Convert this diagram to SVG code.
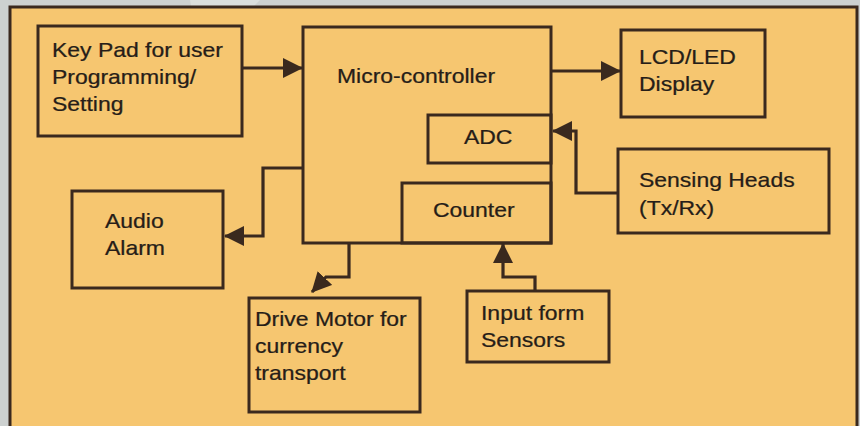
<svg xmlns="http://www.w3.org/2000/svg" width="860" height="426" viewBox="0 0 860 426">
<style>
.box{fill:none;stroke:#3a291e;stroke-width:3}
.frame{fill:#F6C670;stroke:#3a291e;stroke-width:3}
.ln{fill:none;stroke:#3a291e;stroke-width:3.2;stroke-linejoin:miter}
text{font-family:"Liberation Sans",Arial,sans-serif;font-size:20.5px;fill:#261d18;stroke:#261d18;stroke-width:0.25}
</style>
<defs>
<marker id="ah" markerUnits="userSpaceOnUse" markerWidth="20" markerHeight="20" viewBox="0 0 20 20" refX="19" refY="10" orient="auto">
<path d="M0,0 L20,10 L0,20 z" fill="#3a291e"/>
</marker>
</defs>
<rect x="0" y="0" width="860" height="426" fill="#cdd1d0"/>
<path d="M190,0 L260,0 L200,60 Z" fill="#e4e7e6" opacity="0.6"/>
<rect class="frame" x="10" y="7" width="847" height="440"/>
<g id="keypad">
<rect class="box" x="38" y="26" width="204" height="110"/>
<text transform="matrix(1.12 0 0 1 52 57)">Key Pad for user</text>
<text transform="matrix(1.12 0 0 1 52 84)">Programming/</text>
<text transform="matrix(1.12 0 0 1 52 111)">Setting</text>
</g>
<g id="microcontroller">
<rect class="box" x="303" y="27" width="248" height="216"/>
<text transform="matrix(1.12 0 0 1 337 83)">Micro-controller</text>
</g>
<g id="adc">
<rect class="box" x="428" y="115" width="123" height="48"/>
<text transform="matrix(1.12 0 0 1 464 144)">ADC</text>
</g>
<g id="counter">
<rect class="box" x="402" y="183" width="149" height="60"/>
<text transform="matrix(1.12 0 0 1 433 217)">Counter</text>
</g>
<g id="lcd">
<rect class="box" x="621" y="30" width="144" height="87"/>
<text transform="matrix(1.12 0 0 1 639 64)">LCD/LED</text>
<text transform="matrix(1.12 0 0 1 639 91)">Display</text>
</g>
<g id="sensing">
<rect class="box" x="618" y="149" width="211" height="84"/>
<text transform="matrix(1.12 0 0 1 639 187)">Sensing Heads</text>
<text transform="matrix(1.12 0 0 1 639 215)">(Tx/Rx)</text>
</g>
<g id="audio">
<rect class="box" x="72" y="191" width="151" height="97"/>
<text transform="matrix(1.12 0 0 1 105 228)">Audio</text>
<text transform="matrix(1.12 0 0 1 105 255)">Alarm</text>
</g>
<g id="drive">
<rect class="box" x="249" y="298" width="171" height="114"/>
<text transform="matrix(1.12 0 0 1 255 326)">Drive Motor for</text>
<text transform="matrix(1.12 0 0 1 255 353)">currency</text>
<text transform="matrix(1.12 0 0 1 255 380)">transport</text>
</g>
<g id="input">
<rect class="box" x="467" y="291" width="142" height="71"/>
<text transform="matrix(1.12 0 0 1 481 320)">Input form</text>
<text transform="matrix(1.12 0 0 1 481 347)">Sensors</text>
</g>
<g id="connectors">
<path class="ln" d="M242,68 H302" marker-end="url(#ah)"/>
<path class="ln" d="M551,71 H620" marker-end="url(#ah)"/>
<path class="ln" d="M618,193 H576 V131 H553" marker-end="url(#ah)"/>
<path class="ln" d="M303,168 H263 V236 H225" marker-end="url(#ah)"/>
<path class="ln" d="M349,243 V277 H326 L312,292" marker-end="url(#ah)"/>
<path class="ln" d="M535,291 V277 H503 V244" marker-end="url(#ah)"/>
</g>
</svg>
